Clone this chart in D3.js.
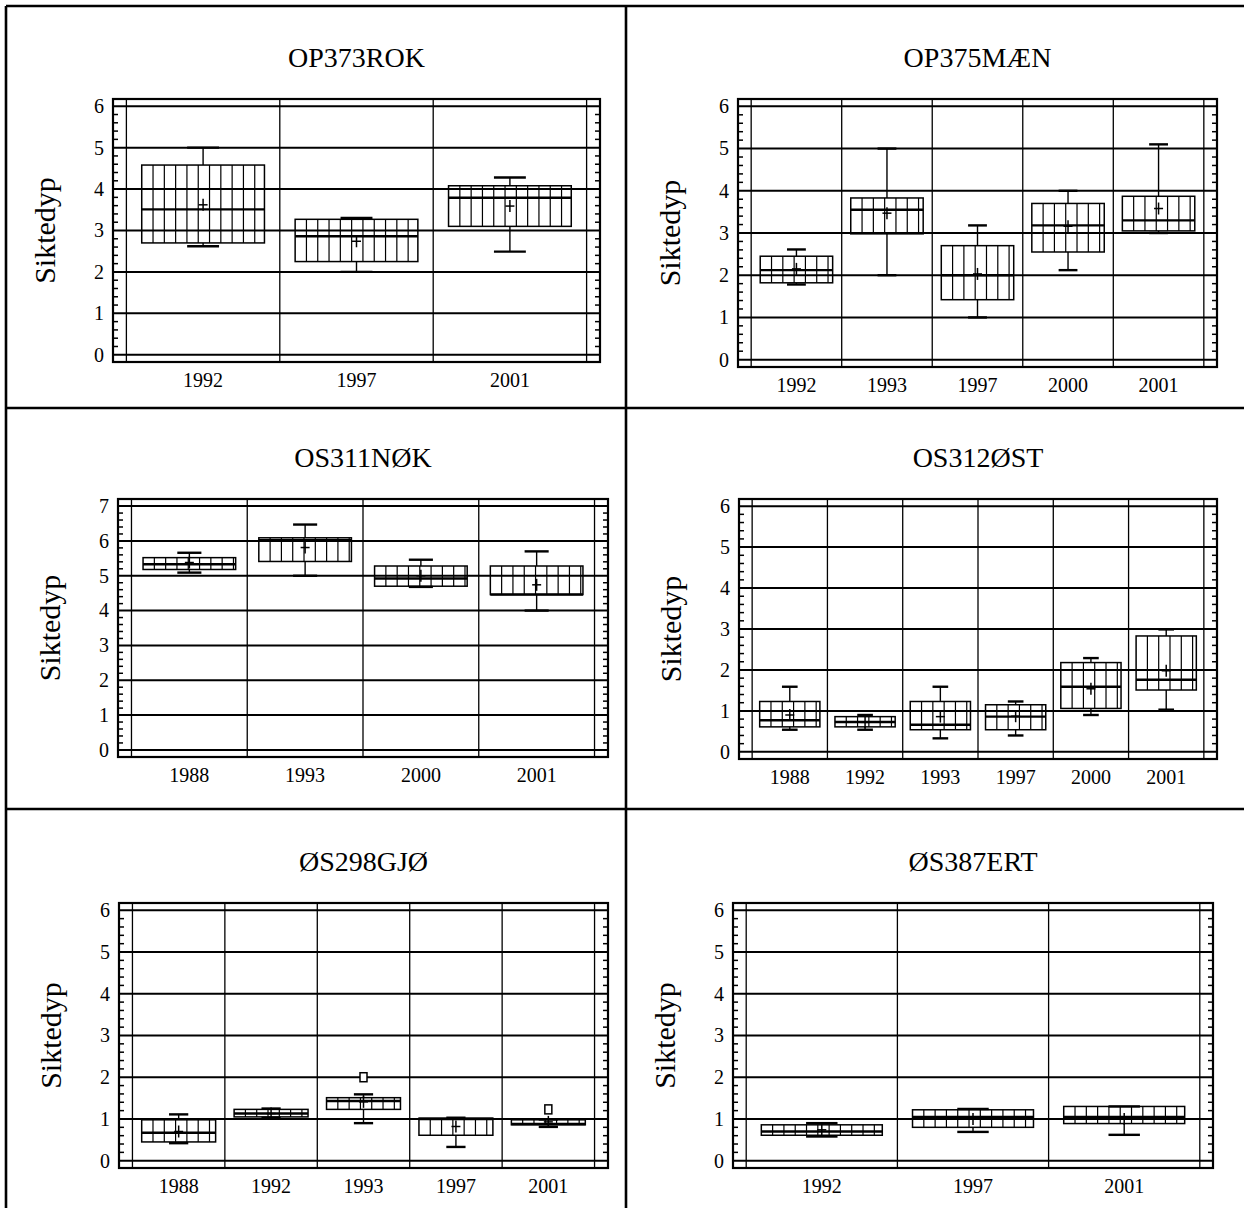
<!DOCTYPE html>
<html>
<head>
<meta charset="utf-8">
<script src="https://cdn.jsdelivr.net/npm/d3@7"></script>
<style>
  html, body { margin: 0; padding: 0; background: #fff; }
  svg { display: block; }
  text { font-family: "Liberation Serif", "Times New Roman", serif; fill: #000; }
</style>
</head>
<body>
<svg id="chart" width="1244" height="1208"></svg>
<script>
// ---------------- DATA ----------------
const panelTitles = ["OP373ROK", "OP375MÆN", "OS311NØK", "OS312ØST", "ØS298GJØ", "ØS387ERT"];
const yAxisTitle = "Siktedyp";
const yMaxValues = [6, 6, 7, 6, 6, 6];

// each row: year, lower whisker, Q1, median, Q3, upper whisker, mean, outliers
const dataOP373ROK = [
  { year: "1992", lo: 2.62, q1: 2.70, med: 3.51, q3: 4.58, hi: 5.00, mean: 3.62, out: [] },
  { year: "1997", lo: 2.00, q1: 2.25, med: 2.86, q3: 3.27, hi: 3.30, mean: 2.74, out: [] },
  { year: "2001", lo: 2.49, q1: 3.10, med: 3.79, q3: 4.08, hi: 4.28, mean: 3.59, out: [] }
];
const dataOP375MAEN = [
  { year: "1992", lo: 1.78, q1: 1.82, med: 2.12, q3: 2.45, hi: 2.61, mean: 2.15, out: [] },
  { year: "1993", lo: 2.00, q1: 2.98, med: 3.55, q3: 3.83, hi: 5.00, mean: 3.47, out: [] },
  { year: "1997", lo: 1.00, q1: 1.42, med: 2.00, q3: 2.70, hi: 3.18, mean: 2.03, out: [] },
  { year: "2000", lo: 2.12, q1: 2.55, med: 3.18, q3: 3.70, hi: 4.00, mean: 3.16, out: [] },
  { year: "2001", lo: 3.00, q1: 3.05, med: 3.30, q3: 3.87, hi: 5.10, mean: 3.58, out: [] }
];
const dataOS311NOK = [
  { year: "1988", lo: 5.09, q1: 5.18, med: 5.33, q3: 5.52, hi: 5.66, mean: 5.38, out: [] },
  { year: "1993", lo: 5.00, q1: 5.41, med: 6.02, q3: 6.09, hi: 6.47, mean: 5.81, out: [] },
  { year: "2000", lo: 4.68, q1: 4.70, med: 4.92, q3: 5.28, hi: 5.46, mean: 5.00, out: [] },
  { year: "2001", lo: 4.00, q1: 4.46, med: 4.46, q3: 5.28, hi: 5.70, mean: 4.74, out: [] }
];
const dataOS312OST = [
  { year: "1988", lo: 0.54, q1: 0.61, med: 0.77, q3: 1.23, hi: 1.59, mean: 0.90, out: [] },
  { year: "1992", lo: 0.54, q1: 0.61, med: 0.73, q3: 0.86, hi: 0.90, mean: 0.72, out: [] },
  { year: "1993", lo: 0.33, q1: 0.54, med: 0.66, q3: 1.23, hi: 1.59, mean: 0.86, out: [] },
  { year: "1997", lo: 0.40, q1: 0.54, med: 0.86, q3: 1.15, hi: 1.23, mean: 0.87, out: [] },
  { year: "2000", lo: 0.90, q1: 1.06, med: 1.59, q3: 2.18, hi: 2.29, mean: 1.54, out: [] },
  { year: "2001", lo: 1.03, q1: 1.51, med: 1.76, q3: 2.83, hi: 2.99, mean: 1.98, out: [] }
];
const dataOS298GJO = [
  { year: "1988", lo: 0.42, q1: 0.45, med: 0.67, q3: 0.98, hi: 1.11, mean: 0.70, out: [] },
  { year: "1992", lo: 1.03, q1: 1.05, med: 1.13, q3: 1.23, hi: 1.25, mean: 1.13, out: [] },
  { year: "1993", lo: 0.90, q1: 1.23, med: 1.43, q3: 1.51, hi: 1.59, mean: 1.41, out: [2.00] },
  { year: "1997", lo: 0.33, q1: 0.61, med: 1.00, q3: 1.02, hi: 1.03, mean: 0.82, out: [] },
  { year: "2001", lo: 0.81, q1: 0.86, med: 0.88, q3: 0.98, hi: 0.99, mean: 0.93, out: [1.23] }
];
const dataOS387ERT = [
  { year: "1992", lo: 0.58, q1: 0.61, med: 0.70, q3: 0.86, hi: 0.90, mean: 0.74, out: [] },
  { year: "1997", lo: 0.69, q1: 0.80, med: 1.05, q3: 1.22, hi: 1.24, mean: 1.00, out: [] },
  { year: "2001", lo: 0.62, q1: 0.89, med: 1.05, q3: 1.30, hi: 1.30, mean: 1.00, out: [] }
];
const panelData = [dataOP373ROK, dataOP375MAEN, dataOS311NOK, dataOS312OST, dataOS298GJO, dataOS387ERT];

// ---------------- LAYOUT (frame rectangles, absolute px) ----------------
const frames = [
  { l: 113, r: 600,  t: 99,  b: 362 },
  { l: 738, r: 1217, t: 99,  b: 367 },
  { l: 118, r: 608,  t: 499, b: 757 },
  { l: 739, r: 1217, t: 499, b: 759 },
  { l: 119, r: 608,  t: 903, b: 1168 },
  { l: 733, r: 1213, t: 903, b: 1168 }
];

const svg = d3.select("#chart");

// table lines
const tableLines = [
  [6, 6, 1250, 6], [6, 6, 6, 1215], [626, 6, 626, 1215],
  [6, 408, 1250, 408], [6, 809, 1250, 809]
];
svg.append("g").selectAll("line").data(tableLines).join("line")
  .attr("x1", d => d[0]).attr("y1", d => d[1]).attr("x2", d => d[2]).attr("y2", d => d[3])
  .attr("stroke", "#000").attr("stroke-width", 2.6);

const HATCH = 11.3;
const INSET = 0.0275;

panelData.forEach((data, i) => {
  const f = frames[i];
  const yMax = yMaxValues[i];
  const padX = (f.r - f.l) * INSET, padY = (f.b - f.t) * INSET;
  const x = d3.scaleBand().domain(data.map(d => d.year)).range([f.l + padX, f.r - padX]).padding(0);
  const y = d3.scaleLinear().domain([0, yMax]).range([f.b - padY, f.t + padY]);
  const g = svg.append("g");

  // title (centred over the plot frame)
  g.append("text").attr("x", (f.l + f.r) / 2).attr("y", f.t - 32.5)
    .attr("text-anchor", "middle").style("font-size", "28px").text(panelTitles[i]);

  // y title
  g.append("text")
    .attr("transform", `translate(${f.l - 58},${(f.t + f.b) / 2}) rotate(-90)`)
    .attr("text-anchor", "middle").style("font-size", "30px").text(yAxisTitle);

  // minor ticks on left and right frame
  const minor = d3.range(0, yMax * 5 + 1).map(k => k / 5).filter(v => Math.abs(v - Math.round(v)) > 1e-6);
  g.append("g").selectAll("line").data(minor).join("line")
    .attr("x1", f.l).attr("x2", f.l + 5).attr("y1", d => y(d)).attr("y2", d => y(d))
    .attr("stroke", "#000").attr("stroke-width", 1.5);
  g.append("g").selectAll("line").data(minor).join("line")
    .attr("x1", f.r).attr("x2", f.r - 5).attr("y1", d => y(d)).attr("y2", d => y(d))
    .attr("stroke", "#000").attr("stroke-width", 1.5);

  // horizontal gridlines
  const majors = d3.range(0, yMax + 1);
  g.append("g").selectAll("line").data(majors).join("line")
    .attr("x1", f.l).attr("x2", f.r).attr("y1", d => y(d)).attr("y2", d => y(d))
    .attr("stroke", "#000").attr("stroke-width", 2);

  // vertical gridlines at category boundaries
  const bounds = data.map(d => x(d.year)).concat([x(data[data.length - 1].year) + x.bandwidth()]);
  g.append("g").selectAll("line").data(bounds).join("line")
    .attr("x1", d => d).attr("x2", d => d).attr("y1", f.t).attr("y2", f.b)
    .attr("stroke", "#000").attr("stroke-width", 1.3);

  // frame
  g.append("rect").attr("x", f.l).attr("y", f.t).attr("width", f.r - f.l).attr("height", f.b - f.t)
    .attr("fill", "none").attr("stroke", "#000").attr("stroke-width", 2.2);

  // axes labels
  const ya = g.append("g").attr("transform", `translate(${f.l},0)`)
    .call(d3.axisLeft(y).tickValues(majors).tickFormat(d3.format("d")).tickSize(0).tickPadding(9));
  ya.select(".domain").remove();
  ya.selectAll("text").style("font-size", "20px").style("font-family", '"Liberation Serif", serif');

  const xa = g.append("g").attr("transform", `translate(0,${f.b})`)
    .call(d3.axisBottom(x).tickSize(0).tickPadding(10.5));
  xa.select(".domain").remove();
  xa.selectAll("text").style("font-size", "20px").style("font-family", '"Liberation Serif", serif');

  // boxes
  const bw = x.bandwidth() * 0.8;
  const capW = bw * 0.26;
  data.forEach(d => {
    const cx = x(d.year) + x.bandwidth() / 2;
    const bl = cx - bw / 2, br = cx + bw / 2;
    const bg = g.append("g");
    // whisker stems
    bg.append("line").attr("x1", cx).attr("x2", cx).attr("y1", y(d.q3)).attr("y2", y(d.hi))
      .attr("stroke", "#000").attr("stroke-width", 1.4);
    bg.append("line").attr("x1", cx).attr("x2", cx).attr("y1", y(d.q1)).attr("y2", y(d.lo))
      .attr("stroke", "#000").attr("stroke-width", 1.4);
    // caps
    [d.hi, d.lo].forEach(v => {
      bg.append("line").attr("x1", cx - capW / 2).attr("x2", cx + capW / 2)
        .attr("y1", y(v)).attr("y2", y(v)).attr("stroke", "#000").attr("stroke-width", 2.4);
    });
    // hatch
    const hx = d3.range(bl + HATCH, br - 2, HATCH);
    bg.append("g").selectAll("line").data(hx).join("line")
      .attr("x1", v => v).attr("x2", v => v).attr("y1", y(d.q3)).attr("y2", y(d.q1))
      .attr("stroke", "#000").attr("stroke-width", 1.2);
    // box
    bg.append("rect").attr("x", bl).attr("y", y(d.q3)).attr("width", bw).attr("height", y(d.q1) - y(d.q3))
      .attr("fill", "none").attr("stroke", "#000").attr("stroke-width", 1.5);
    // median
    bg.append("line").attr("x1", bl).attr("x2", br).attr("y1", y(d.med)).attr("y2", y(d.med))
      .attr("stroke", "#000").attr("stroke-width", 2.4);
    // mean plus
    bg.append("line").attr("x1", cx - 4.5).attr("x2", cx + 4.5).attr("y1", y(d.mean)).attr("y2", y(d.mean))
      .attr("stroke", "#000").attr("stroke-width", 1.5);
    bg.append("line").attr("x1", cx).attr("x2", cx).attr("y1", y(d.mean) - 6).attr("y2", y(d.mean) + 6)
      .attr("stroke", "#000").attr("stroke-width", 1.5);
    // outliers
    bg.selectAll("rect.out").data(d.out).join("rect").attr("class", "out")
      .attr("x", cx - 3.5).attr("y", v => y(v) - 4.5).attr("width", 7).attr("height", 9)
      .attr("fill", "#fff").attr("stroke", "#000").attr("stroke-width", 1.5);
  });
});
</script>
</body>
</html>
